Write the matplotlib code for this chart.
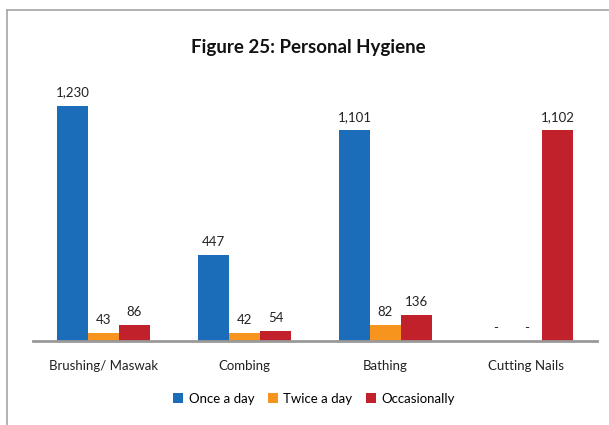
import numpy as np
import matplotlib.pyplot as plt
from matplotlib.patches import Patch
from matplotlib.lines import Line2D

# data
categories = ['Brushing/ Maswak', 'Combing', 'Bathing', 'Cutting Nails']
series = ['Once a day', 'Twice a day', 'Occasionally']
once_a_day = [1230, 447, 1101, 0]
twice_a_day = [43, 42, 82, 0]
occasionally = [86, 54, 136, 1102]

colors = ['#1C6DB9', '#F7941E', '#C1212A']

plt.rcParams['font.family'] = ['Lato', 'DejaVu Sans']

fig = plt.figure(figsize=(6.09, 4.25), dpi=100)
# frame round the chart (left and top edges visible)
fig.add_artist(Line2D([7/609, 7/609], [0, 1 - 10/425], color='#A6A6A6', lw=1.2))
fig.add_artist(Line2D([7/609, 1], [1 - 10/425, 1 - 10/425], color='#A6A6A6', lw=1.2))

ax = fig.add_axes([33/609, 84/425, 564/609, 268/425])
x = np.arange(len(categories))
w = 0.22
for i, (vals, c) in enumerate(zip([once_a_day, twice_a_day, occasionally], colors)):
    pos = x + (i - 1) * w
    ax.bar(pos, vals, width=w, color=c, edgecolor='none')
    for p, v in zip(pos, vals):
        txt = '-' if v == 0 else f'{v:,}'
        ax.annotate(txt, (p, v), xytext=(0, 5), textcoords='offset points',
                    ha='center', va='bottom', fontsize=9.5, color='#222222')

ax.set_xlim(-0.5, len(categories) - 0.5)
ax.set_ylim(0, 1400)
ax.set_yticks([])
ax.set_xticks(x)
ax.set_xticklabels(categories, fontsize=9.5, color='#222222')
ax.tick_params(axis='x', length=0, pad=14)
for s in ['top', 'right', 'left']:
    ax.spines[s].set_visible(False)
ax.spines['bottom'].set_color('#999999')
ax.spines['bottom'].set_linewidth(2)

fig.text(308/609, 1 - 48/425, 'Figure 25: Personal Hygiene', ha='center', va='center',
         fontsize=13.5, fontweight='bold', color='#111111')

handles = [Patch(facecolor=c, edgecolor='none') for c in colors]
fig.legend(handles, series, loc='center', bbox_to_anchor=(314/609, 1 - 399/425), ncol=3,
           frameon=False, fontsize=9.5, handlelength=0.8, handleheight=0.8,
           handletextpad=0.4, columnspacing=1.0)

fig.savefig('out.png', dpi=100)
